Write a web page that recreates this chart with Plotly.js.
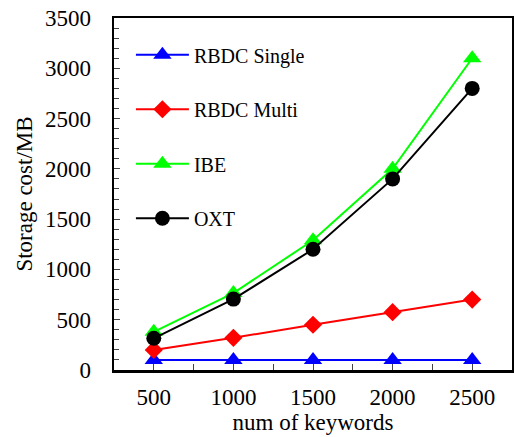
<!DOCTYPE html>
<html><head><meta charset="utf-8">
<script src="https://cdn.plot.ly/plotly-3.0.1.min.js"></script>
<style>html,body{margin:0;padding:0;background:#fff;}</style>
</head><body>
<div id="chart" style="width:514px;height:437px;"></div>
<script>
const keywords = [500, 1000, 1500, 2000, 2500];
const rbdcSingle = [100, 100, 100, 100, 100];
const rbdcMulti = [200, 320, 450, 575, 700];
const ibe = [380, 765, 1290, 2000, 3100];
const oxt = [315, 705, 1200, 1900, 2800];
const seriesNames = ['RBDC Single', 'RBDC Multi', 'IBE', 'OXT'];

const font = '"Liberation Serif", "Times New Roman", serif';
function tr(name, y, color, symbol, size, grp) {
  return {x: keywords, y: y, name: name, type: 'scatter', mode: 'lines+markers',
    line: {color: color, width: 2}, marker: {color: color, symbol: symbol, size: size},
    legendgroup: grp};
}
const data = [
  tr(seriesNames[0], rbdcSingle, '#0000ff', 'triangle-up', 16, 'a'),
  tr(seriesNames[1], rbdcMulti, '#ff0000', 'diamond', 14, 'b'),
  tr(seriesNames[2], ibe, '#00ff00', 'triangle-up', 16, 'c'),
  tr(seriesNames[3], oxt, '#000000', 'circle', 15, 'd')
];
const layout = {
  width: 514, height: 437,
  margin: {l: 114, r: 2, t: 18, b: 67},
  paper_bgcolor: '#fff', plot_bgcolor: '#fff',
  font: {family: font, color: '#000', size: 23},
  showlegend: true,
  legend: {x: 0.0425, y: 0.951, xanchor: 'left', yanchor: 'top', bgcolor: 'rgba(0,0,0,0)',
    font: {family: font, size: 20}, traceorder: 'grouped', tracegroupgap: 25.5, itemwidth: 53},
  xaxis: {range: [250, 2750], tickvals: keywords, ticks: 'inside', ticklen: 6, tickwidth: 1,
    showline: true, linewidth: 2.5, linecolor: '#000', mirror: true, showgrid: false, zeroline: false,
    minor: {dtick: 250, tick0: 250, ticks: 'inside', ticklen: 6, tickwidth: 1, showgrid: false},
    tickfont: {size: 23}, ticklabelstandoff: 5,
    title: {text: 'num of keywords', font: {size: 23}, standoff: 0}},
  yaxis: {range: [0, 3500], dtick: 500, ticks: 'inside', ticklen: 6, tickwidth: 1,
    showline: true, linewidth: 2.5, linecolor: '#000', mirror: true, showgrid: false, zeroline: false,
    minor: {dtick: 100, ticks: 'inside', ticklen: 5, tickwidth: 1, showgrid: false},
    tickfont: {size: 23}, ticklabelstandoff: 16,
    title: {text: 'Storage cost/MB', font: {size: 23}, standoff: 6}}
};
Plotly.newPlot('chart', data, layout, {staticPlot: true, displayModeBar: false});
</script>
</body></html>
